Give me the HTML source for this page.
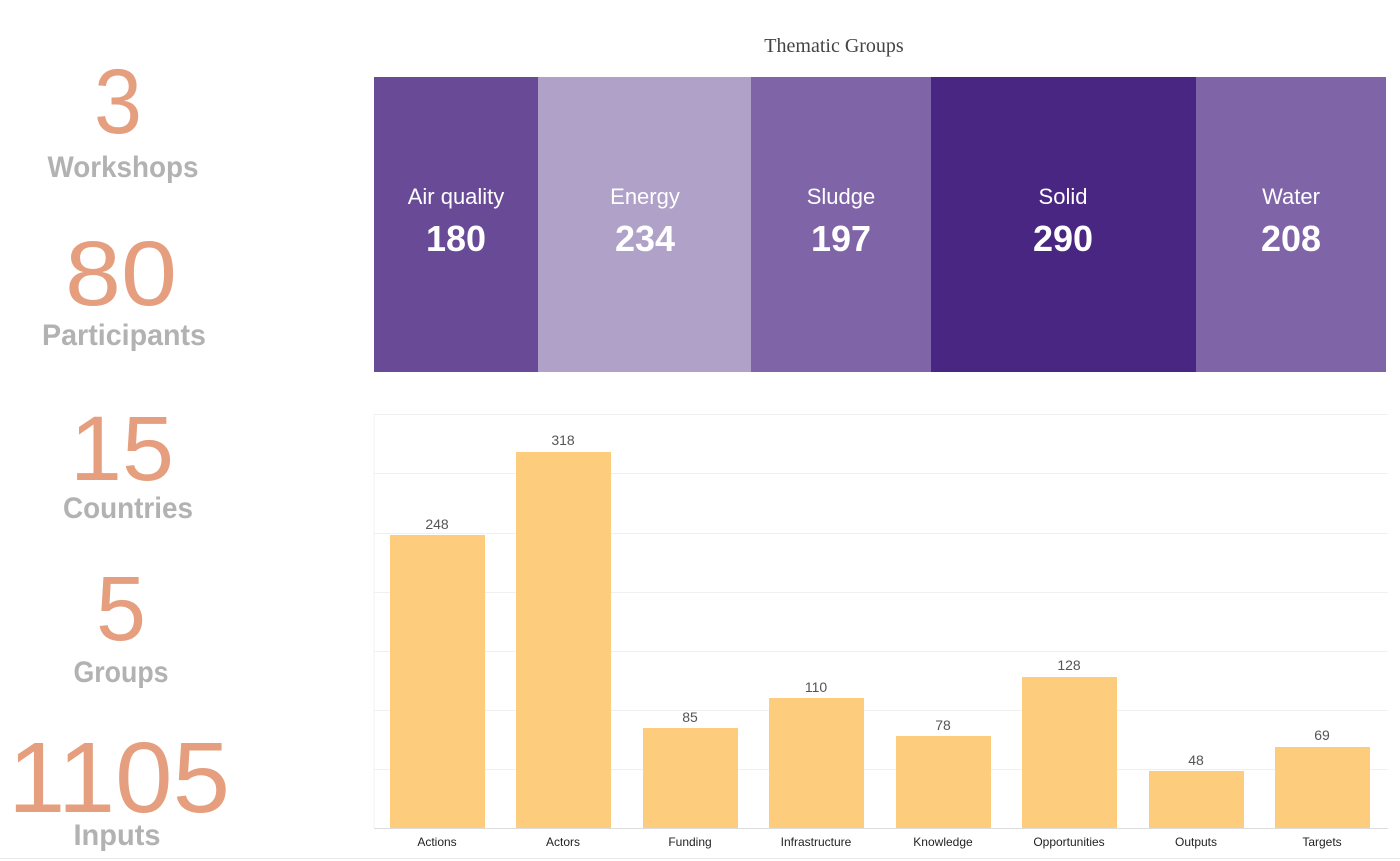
<!DOCTYPE html>
<html><head><meta charset="utf-8"><style>html,body{margin:0;padding:0;background:#fff}svg{display:block}</style></head>
<body>
<svg width="1400" height="861" viewBox="0 0 1400 861" xmlns="http://www.w3.org/2000/svg" font-family="Liberation Sans, sans-serif">
<g text-anchor="middle">
<g fill="#e59e7e" font-size="92">
<text x="118" y="133" textLength="48" lengthAdjust="spacingAndGlyphs">3</text>
<text x="121" y="305" textLength="112" lengthAdjust="spacingAndGlyphs">80</text>
<text x="122" y="480" textLength="104" lengthAdjust="spacingAndGlyphs">15</text>
<text x="121" y="640" textLength="50" lengthAdjust="spacingAndGlyphs">5</text>
<text x="119" y="812" font-size="100" textLength="222" lengthAdjust="spacingAndGlyphs">1105</text>
</g>
<g fill="#b2b2b2" font-size="30" font-weight="bold">
<text x="123" y="177" textLength="151" lengthAdjust="spacingAndGlyphs">Workshops</text>
<text x="124" y="345" textLength="164" lengthAdjust="spacingAndGlyphs">Participants</text>
<text x="128" y="518" textLength="130" lengthAdjust="spacingAndGlyphs">Countries</text>
<text x="121" y="682" textLength="95" lengthAdjust="spacingAndGlyphs">Groups</text>
<text x="117" y="845" textLength="87" lengthAdjust="spacingAndGlyphs">Inputs</text>
</g>
<text x="834" y="52" font-family="Liberation Serif, serif" font-size="20" fill="#444">Thematic Groups</text>
</g>
<rect x="374" y="77" width="164" height="295" fill="#684a96"/>
<rect x="538" y="77" width="213" height="295" fill="#b0a1c9"/>
<rect x="751" y="77" width="180" height="295" fill="#7f65a8"/>
<rect x="931" y="77" width="265" height="295" fill="#4a2683"/>
<rect x="1196" y="77" width="190" height="295" fill="#7f65a8"/>
<g fill="#fff" text-anchor="middle">
<g font-size="22"><text x="456" y="204">Air quality</text><text x="645" y="204">Energy</text><text x="841" y="204">Sludge</text><text x="1063" y="204">Solid</text><text x="1291" y="204">Water</text></g>
<g font-size="36" font-weight="bold"><text x="456" y="251">180</text><text x="645" y="251">234</text><text x="841" y="251">197</text><text x="1063" y="251">290</text><text x="1291" y="251">208</text></g>
</g>
<g stroke="#f0f0f0" stroke-width="1">
<line x1="374" x2="1388" y1="414.5" y2="414.5"/><line x1="374" x2="1388" y1="473.5" y2="473.5"/><line x1="374" x2="1388" y1="533.5" y2="533.5"/><line x1="374" x2="1388" y1="592.5" y2="592.5"/><line x1="374" x2="1388" y1="651.5" y2="651.5"/><line x1="374" x2="1388" y1="710.5" y2="710.5"/><line x1="374" x2="1388" y1="769.5" y2="769.5"/><line x1="374" x2="374" y1="414" y2="828"/>
</g>
<line x1="374" x2="1388" y1="828.5" y2="828.5" stroke="#ddd"/>
<g fill="#fdcc7c">
<rect x="390" y="535" width="95" height="293"/>
<rect x="516" y="452" width="95" height="376"/>
<rect x="643" y="728" width="95" height="100"/>
<rect x="769" y="698" width="95" height="130"/>
<rect x="896" y="736" width="95" height="92"/>
<rect x="1022" y="677" width="95" height="151"/>
<rect x="1149" y="771" width="95" height="57"/>
<rect x="1275" y="747" width="95" height="81"/>
</g>
<g font-size="14" fill="#555" text-anchor="middle">
<text x="437" y="529">248</text><text x="563" y="445">318</text><text x="690" y="722">85</text><text x="816" y="692">110</text><text x="943" y="730">78</text><text x="1069" y="670">128</text><text x="1196" y="765">48</text><text x="1322" y="740">69</text>
</g>
<g font-size="12" fill="#222" text-anchor="middle">
<text x="437" y="846">Actions</text><text x="563" y="846">Actors</text><text x="690" y="846">Funding</text><text x="816" y="846">Infrastructure</text><text x="943" y="846">Knowledge</text><text x="1069" y="846">Opportunities</text><text x="1196" y="846">Outputs</text><text x="1322" y="846">Targets</text>
</g>
<line x1="0" x2="1400" y1="858.5" y2="858.5" stroke="#e8e8e8"/>
</svg>
</body></html>
